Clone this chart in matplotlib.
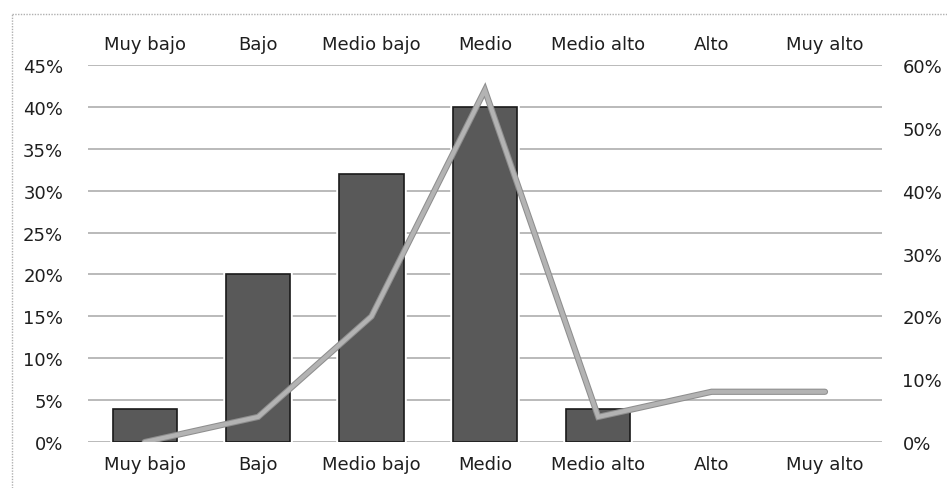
import numpy as np
import matplotlib
matplotlib.use('Agg')
import matplotlib.pyplot as plt
import matplotlib.patheffects as pe
from matplotlib.ticker import FuncFormatter, MultipleLocator
from matplotlib.lines import Line2D

# Data
categories = ['Muy bajo', 'Bajo', 'Medio bajo', 'Medio', 'Medio alto', 'Alto', 'Muy alto']
bar_values = [4, 20, 32, 40, 4, 0, 0]        # left axis (%)
line_values = [0, 4, 20, 56, 4, 8, 8]        # right axis (%)

plt.rcParams['font.family'] = 'DejaVu Sans'
plt.rcParams['font.size'] = 13

fig = plt.figure(figsize=(9.47, 4.89), dpi=100)
ax = fig.add_axes([0.093, 0.094, 0.838, 0.771])

x = np.arange(len(categories))

# Horizontal gridlines
for v in range(0, 50, 5):
    ax.axhline(v, color='#b4b4b4', linewidth=1.3, zorder=0)

bars = ax.bar(x, bar_values, width=0.565, color='#595959', edgecolor='#1a1a1a',
              linewidth=1.2, zorder=2)
for b in bars:
    if b.get_height() > 0:
        b.set_path_effects([pe.withStroke(linewidth=4, foreground='white')])
    else:
        b.set_linewidth(0)

ax.set_xlim(-0.5, len(categories) - 0.5)
ax.set_ylim(0, 45)
ax.yaxis.set_major_locator(MultipleLocator(5))
ax.yaxis.set_major_formatter(FuncFormatter(lambda v, p: f'{v:.0f}%'))
ax.set_xticks(x)
ax.set_xticklabels(categories)
ax.tick_params(axis='x', labeltop=True, labelbottom=True, length=0, pad=9,
               colors='#1e1e1e')
ax.tick_params(axis='y', length=0, pad=18, colors='#1e1e1e')
for s in ax.spines.values():
    s.set_visible(False)

# Secondary axis with the line series
ax2 = ax.twinx()
ax2.plot(x, line_values, color='#b3b3b3', linewidth=3, solid_joinstyle='miter',
         solid_capstyle='round',
         path_effects=[pe.withStroke(linewidth=4.5, foreground='#8e8e8e')], zorder=3)
ax2.set_ylim(0, 60)
ax2.yaxis.set_major_locator(MultipleLocator(10))
ax2.yaxis.set_major_formatter(FuncFormatter(lambda v, p: f'{v:.0f}%'))
ax2.tick_params(axis='y', length=0, pad=15, colors='#1e1e1e')
for s in ax2.spines.values():
    s.set_visible(False)

# Dotted chart border (top and left)
fig.add_artist(Line2D([12 / 947, 1], [1 - 15 / 489, 1 - 15 / 489], color='#b0b0b0',
                      linewidth=1, linestyle=(0, (1, 1))))
fig.add_artist(Line2D([12 / 947, 12 / 947], [0, 1 - 15 / 489], color='#b0b0b0',
                      linewidth=1, linestyle=(0, (1, 1))))

fig.savefig('out.png', dpi=100)
